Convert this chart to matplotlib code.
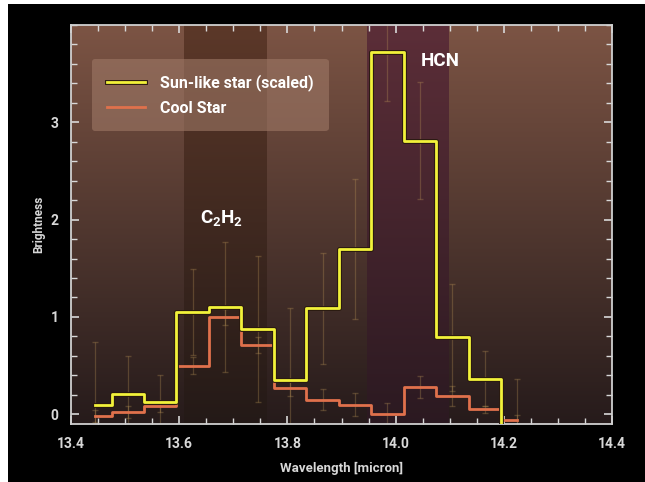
import numpy as np
import matplotlib
matplotlib.use('Agg')
import matplotlib.pyplot as plt
from matplotlib.patches import Rectangle
import matplotlib.patheffects as pe

matplotlib.rcParams['font.family'] = ['Roboto', 'DejaVu Sans']
matplotlib.rcParams['mathtext.default'] = 'regular'

# data
wave = [13.445, 13.505, 13.565, 13.625, 13.685, 13.745, 13.805,
        13.865, 13.925, 13.985, 14.045, 14.105, 14.165, 14.225]
sun = [0.10, 0.21, 0.13, 1.05, 1.10, 0.88, 0.355,
       1.09, 1.70, 3.72, 2.81, 0.79, 0.365, -0.25]
sun_err = [0.64, 0.39, 0.27, 0.44, 0.67, 0.75, 0.74,
           0.57, 0.72, 0.50, 0.60, 0.55, 0.28, 0.61]
cool = [-0.02, 0.02, 0.08, 0.50, 1.00, 0.71, 0.27,
        0.15, 0.10, 0.00, 0.28, 0.19, 0.05, -0.06]
cool_err = [0.06, 0.06, 0.06, 0.09, 0.08, 0.08, 0.08,
            0.11, 0.12, 0.12, 0.11, 0.10, 0.04, 0.05]
bands = [(13.608, 13.760, 'C$_2$H$_2$', 13.679, 2.02),
         (13.947, 14.097, 'HCN', 14.082, 3.63)]

fig = plt.figure(figsize=(6.45, 4.82), dpi=100, facecolor='white')
fig.patches.append(Rectangle((8/645, 0), 637/645, 478/482, transform=fig.transFigure,
                             facecolor='black', edgecolor='none', zorder=-10))
ax = fig.add_axes([71/645, 58/482, 541/645, 399/482])
ax.set_xlim(13.4, 14.4)
ax.set_ylim(-0.1, 4.0)

# vertical gradient background
top = np.array([124, 84, 68]) / 255
bot = np.array([38, 27, 27]) / 255
t = np.linspace(0, 1, 256)[:, None]
grad = (top * (1 - t) + bot * t).reshape(256, 1, 3)
ax.imshow(grad, extent=(13.4, 14.4, -0.1, 4.0), aspect='auto', zorder=0, origin='upper')

# absorption bands
band_cols = [((0.36, 0.22, 0.16), (0.14, 0.10, 0.09)),
             ((0.36, 0.18, 0.22), (0.17, 0.10, 0.13))]
for (x0, x1, lab, tx, ty), (c_top, c_bot) in zip(bands, band_cols):
    c_top = np.array(c_top); c_bot = np.array(c_bot)
    g = (c_top * (1 - t) + c_bot * t).reshape(256, 1, 3)
    ax.imshow(g, extent=(x0, x1, -0.1, 4.0), aspect='auto', zorder=0.5, origin='upper')
    ax.text(tx, ty, lab, color='white', fontsize=13.5, fontweight='bold',
            ha='center', va='center', zorder=5)

ax.errorbar(wave, sun, yerr=sun_err, fmt='none', ecolor=(0.75, 0.6, 0.35, 0.3),
            elinewidth=0.9, capsize=2, zorder=2)
ax.errorbar(wave, cool, yerr=cool_err, fmt='none', ecolor=(0.75, 0.6, 0.35, 0.3),
            elinewidth=0.9, capsize=2, zorder=2)

ax.step(wave, cool, where='mid', color='#e0714c', lw=2, zorder=3, label='Cool Star')
ax.step(wave, sun, where='mid', color='#f2f23a', lw=2, zorder=4,
        label='Sun-like star (scaled)',
        path_effects=[pe.Stroke(linewidth=3.5, foreground='#2a1a10'), pe.Normal()])

handles, labels = ax.get_legend_handles_labels()
leg = ax.legend(handles[::-1], labels[::-1], loc='upper left', bbox_to_anchor=(0.024, 0.935),
                fontsize=11.5, frameon=True, fancybox=True, handlelength=2.4,
                handletextpad=0.9, labelspacing=0.6, borderpad=0.95, labelcolor='white')
leg.get_frame().set_facecolor((0.62, 0.47, 0.40))
leg.get_frame().set_alpha(0.6)
leg.get_frame().set_edgecolor('none')
for txt in leg.get_texts():
    txt.set_fontweight('bold')

ax.set_xticks([13.4, 13.6, 13.8, 14.0, 14.2, 14.4])
ax.set_xticklabels(['13.4', '13.6', '13.8', '14.0', '14.2', '14.4'])
ax.set_xticks(np.arange(13.45, 14.4, 0.05), minor=True)
ax.set_yticks([0, 1, 2, 3])
ax.set_yticks(np.arange(-0.0, 4.01, 0.2), minor=True)
ax.tick_params(which='both', direction='in', top=True, right=True, colors='#d8d8d8',
               labelsize=10, pad=9)
ax.tick_params(which='major', length=6, width=1.2)
ax.tick_params(which='minor', length=4, width=1)
for lbl in ax.get_xticklabels() + ax.get_yticklabels():
    lbl.set_fontweight('bold')
for s in ax.spines.values():
    s.set_color('#d0d0d0')
    s.set_linewidth(1.3)

ax.set_xlabel('Wavelength [micron]', color='#d8d8d8', fontsize=9.5, fontweight='bold', labelpad=8)
ax.set_ylabel('Brightness', color='#d8d8d8', fontsize=8.5, fontweight='bold', labelpad=4)

fig.savefig('out.png', dpi=100, facecolor=fig.get_facecolor())
